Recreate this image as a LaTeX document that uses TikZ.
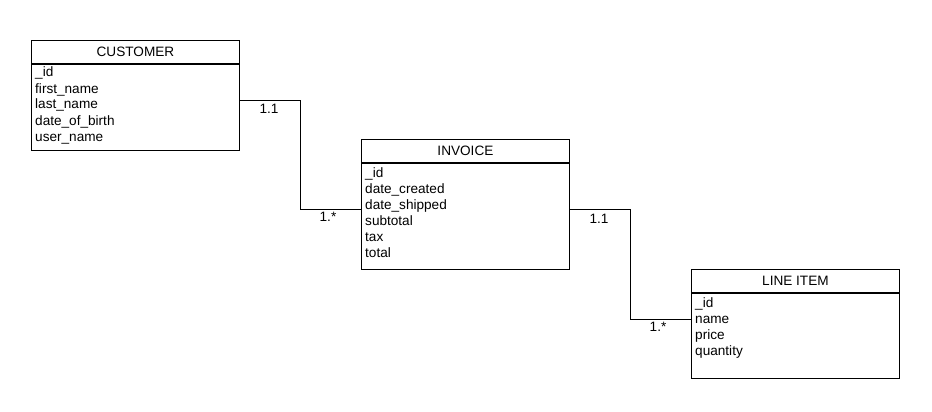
\documentclass[tikz,border=0pt]{standalone}
\usepackage{fontspec}
\setmainfont{Liberation Sans}
\begin{document}
\begin{tikzpicture}[x=1pt,y=-1pt,
  every node/.style={font=\fontsize{13.6}{16}\selectfont},
  hdr/.style={draw=black, line width=0.9pt, fill=white, minimum width=208pt, minimum height=23pt, inner sep=0pt, anchor=north west},
  bodybox/.style={draw=black, line width=0.9pt, fill=white, minimum width=208pt, inner sep=0pt, anchor=north west},
  attr/.style={anchor=base west, inner sep=0pt},
  lbl/.style={inner sep=0pt},
  conn/.style={draw=black, line width=0.9pt}
]
\useasboundingbox (0,0) rectangle (932,412);
\fill[white] (0,0) rectangle (932,412);

% CUSTOMER
\node[hdr] (custH) at (31,40) {CUSTOMER};
\node[bodybox, minimum height=86pt] (custB) at (custH.south west) {};
\foreach \t [count=\i] in {\_id, first\_name, last\_name, date\_of\_birth, user\_name}
  \node[attr] (c\i) at (35,61+16*\i) {\t};

% INVOICE
\node[hdr] (invH) at (361,139) {INVOICE};
\node[bodybox, minimum height=106pt] (invB) at (invH.south west) {};
\foreach \t [count=\i] in {\_id, date\_created, date\_shipped, subtotal, tax, total}
  \node[attr] (v\i) at (365,161+16*\i) {\t};

% LINE ITEM
\node[hdr] (liH) at (691,269) {LINE ITEM};
\node[bodybox, minimum height=85pt] (liB) at (liH.south west) {};
\foreach \t [count=\i] in {\_id, name, price, quantity}
  \node[attr] (l\i) at (695,291+16*\i) {\t};

% connectors
\draw[conn] ([yshift=-37pt]custB.north east) -- ++(61,0) |- ([yshift=-47pt]invB.north west);
\draw[conn] ([yshift=-47pt]invB.north east) -- ++(61,0) |- ([yshift=-27pt]liB.north west);

% multiplicities
\node[lbl] (m1) at (269,109) {1.1};
\node[lbl] (m2) at (328,217) {1.*};
\node[lbl] (m3) at (599,219) {1.1};
\node[lbl] (m4) at (658,327) {1.*};
\end{tikzpicture}
\end{document}
